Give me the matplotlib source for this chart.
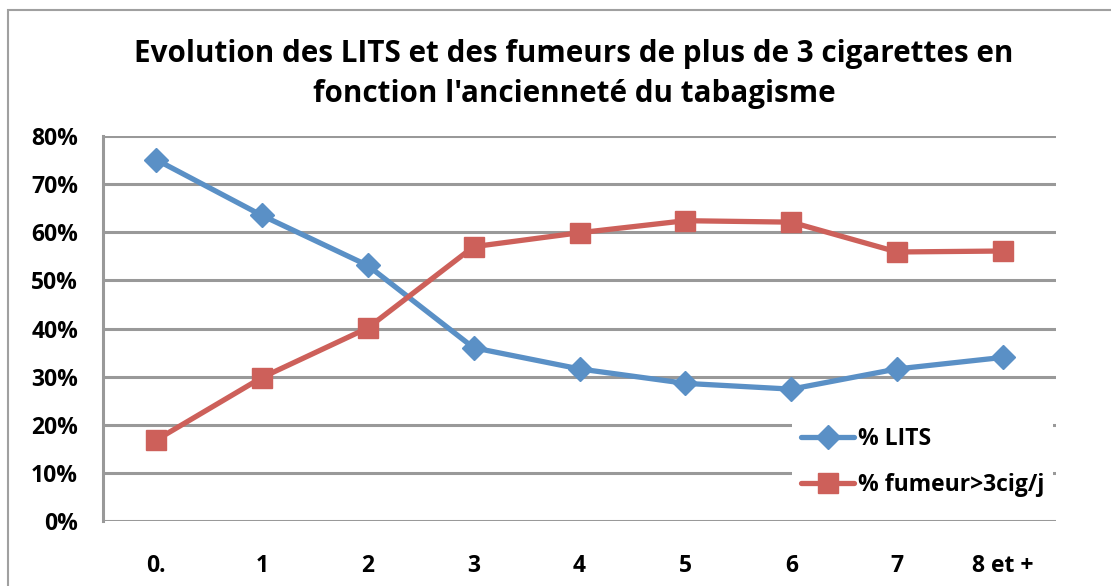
import matplotlib
matplotlib.use("Agg")
import matplotlib.pyplot as plt
from matplotlib.patches import Rectangle

categories = ["0.", "1", "2", "3", "4", "5", "6", "7", "8 et +"]
lits = [75.1, 63.5, 53.1, 36.0, 31.6, 28.6, 27.4, 31.6, 34.0]
fumeur = [16.8, 29.8, 40.1, 57.0, 59.9, 62.4, 62.1, 55.9, 56.1]
series_labels = ["% LITS", "% fumeur>3cig/j"]
yticks = [0, 10, 20, 30, 40, 50, 60, 70, 80]
ytick_labels = [f"{v}%" for v in yticks]
title = "Evolution des LITS et des fumeurs de plus de 3 cigarettes en\nfonction l'ancienneté du tabagisme"

plt.rcParams['font.family'] = ['Open Sans', 'DejaVu Sans']

fig = plt.figure(figsize=(11.11, 5.86), dpi=100)
ax = fig.add_axes([103/1111, 1-521/586, (1056-103)/1111, (521-136)/586])

blue = "#5A90C6"
red = "#CD605A"
grid = "#999999"

x = list(range(len(categories)))
ax.plot(x, lits, color=blue, lw=3.8, marker="D", markersize=12, label=series_labels[0],
        solid_joinstyle="round", solid_capstyle="round")
ax.plot(x, fumeur, color=red, lw=3.8, marker="s", markersize=14, label=series_labels[1],
        solid_joinstyle="round", solid_capstyle="round")

ax.set_xlim(-0.5, len(categories)-0.5)
ax.set_ylim(0, 80)
ax.set_yticks(yticks)
ax.set_yticklabels(ytick_labels)
ax.set_xticks(x)
ax.set_xticklabels(categories)
for y in yticks:
    ax.axhline(y, color=grid, lw=2.2, zorder=0)
for s in ["top", "right", "bottom"]:
    ax.spines[s].set_visible(False)
ax.spines["left"].set_color(grid)
ax.spines["left"].set_linewidth(2.2)
ax.tick_params(axis="both", length=0, labelsize=16.5)
ax.tick_params(axis="y", pad=18)
ax.tick_params(axis="x", pad=24)
for lbl in ax.get_xticklabels() + ax.get_yticklabels():
    lbl.set_fontweight("bold")

leg = fig.legend(loc="center", bbox_to_anchor=(792/1111, 1-512/586, (1053-792)/1111, 100/586),
                 mode="expand", frameon=True, fancybox=False, framealpha=1,
                 edgecolor="none", facecolor="white", handlelength=2.3, handletextpad=0.2,
                 labelspacing=0.95, prop={"size": 16.5, "weight": "bold"}, borderaxespad=0)

fig.text(574/1111, 1-74/586, title, ha="center", va="center", fontsize=21.3,
         fontweight="bold", linespacing=1.45)

fig.patches.append(Rectangle((8/1111, -0.1), 1.2, 1-10/586+0.1, transform=fig.transFigure,
                             fill=False, edgecolor="#a0a0a0", lw=1.5))

fig.savefig("out.png", dpi=100)
